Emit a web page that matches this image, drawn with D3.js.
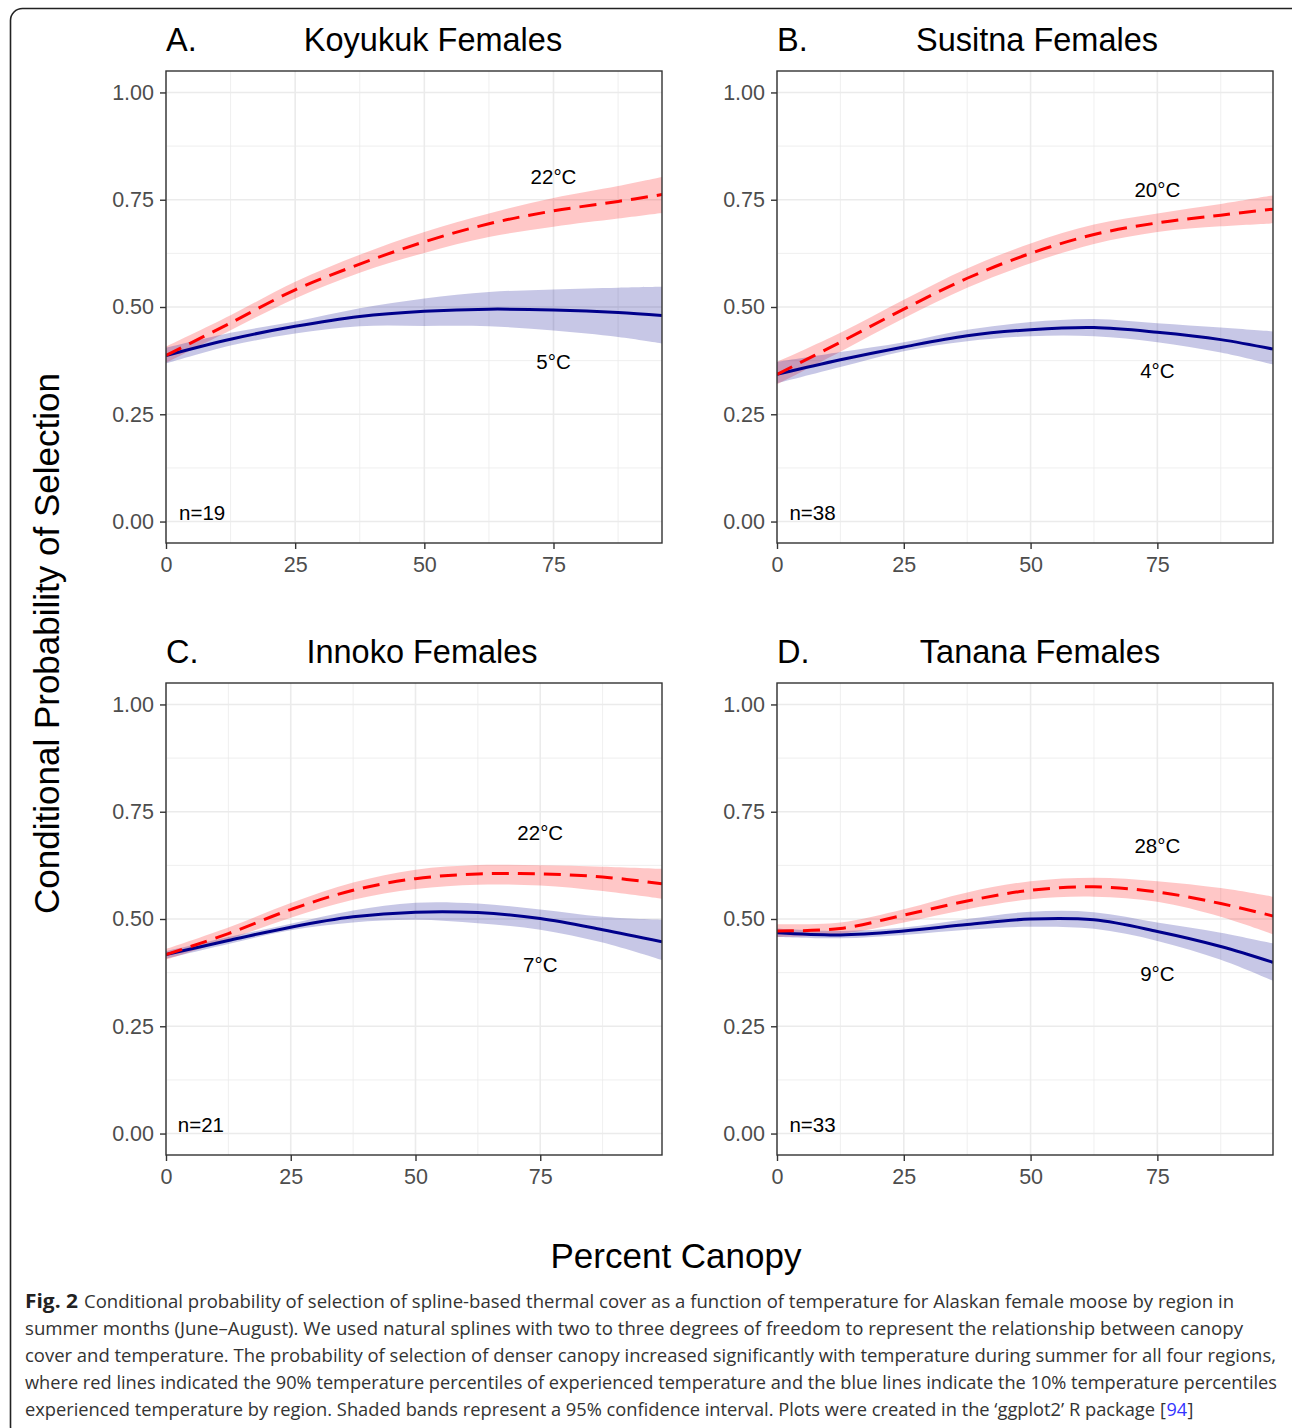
<!DOCTYPE html>
<html>
<head>
<meta charset="utf-8">
<script src="https://cdn.jsdelivr.net/npm/d3@7/dist/d3.min.js"></script>
<style>
  html, body { margin: 0; padding: 0; background: #fff; }
  svg { display: block; }
</style>
</head>
<body>
<svg id="chart" width="1292" height="1428"></svg>
<script>
// ---------------- DATA ----------------
const panelLetters = ["A.", "B.", "C.", "D."];
const panelTitles  = ["Koyukuk Females", "Susitna Females", "Innoko Females", "Tanana Females"];
const sampleSizes  = ["n=19", "n=38", "n=21", "n=33"];
const warmLabels   = ["22°C", "20°C", "22°C", "28°C"];
const coolLabels   = ["5°C", "4°C", "7°C", "9°C"];
const warmLabelY   = [0.803, 0.773, 0.702, 0.672];
const coolLabelY   = [0.374, 0.353, 0.393, 0.372];
const xMax         = [96, 97.8, 99.4, 97.8];

const yTicks = [0, 0.25, 0.5, 0.75, 1];
const xTicks = [0, 25, 50, 75];

// canopy values (percent) at which curves were read
const canopyA = [0, 12.5, 25, 37.5, 50, 62.5, 75, 87.5, 96];
const canopyB = [0, 12.5, 25, 37.5, 50, 62.5, 75, 87.5, 97.8];
const canopyC = [0, 12.5, 25, 37.5, 50, 62.5, 75, 87.5, 99.4];
const canopyD = [0, 12.5, 25, 37.5, 50, 62.5, 75, 87.5, 97.8];

// Koyukuk
const warmA   = [0.387, 0.463, 0.540, 0.600, 0.652, 0.694, 0.724, 0.746, 0.762];
const warmAHi = [0.408, 0.481, 0.559, 0.622, 0.675, 0.718, 0.754, 0.782, 0.803];
const warmALo = [0.370, 0.446, 0.520, 0.580, 0.626, 0.663, 0.687, 0.706, 0.719];
const coolA   = [0.387, 0.425, 0.455, 0.478, 0.490, 0.495, 0.493, 0.487, 0.480];
const coolAHi = [0.405, 0.440, 0.466, 0.497, 0.520, 0.535, 0.541, 0.545, 0.547];
const coolALo = [0.368, 0.410, 0.438, 0.455, 0.456, 0.455, 0.445, 0.430, 0.415];
// Susitna
const warmB   = [0.343, 0.418, 0.495, 0.567, 0.625, 0.669, 0.696, 0.714, 0.728];
const warmBHi = [0.372, 0.440, 0.517, 0.590, 0.648, 0.692, 0.718, 0.740, 0.760];
const warmBLo = [0.320, 0.396, 0.474, 0.545, 0.602, 0.647, 0.675, 0.688, 0.695];
const coolB   = [0.343, 0.377, 0.407, 0.433, 0.447, 0.452, 0.441, 0.424, 0.402];
const coolBHi = [0.372, 0.395, 0.418, 0.447, 0.465, 0.472, 0.462, 0.452, 0.443];
const coolBLo = [0.322, 0.360, 0.397, 0.420, 0.432, 0.432, 0.418, 0.394, 0.366];
// Innoko
const warmC   = [0.417, 0.466, 0.522, 0.567, 0.594, 0.605, 0.605, 0.598, 0.582];
const warmCHi = [0.430, 0.480, 0.537, 0.585, 0.615, 0.626, 0.625, 0.622, 0.617];
const warmCLo = [0.405, 0.452, 0.503, 0.545, 0.570, 0.580, 0.578, 0.565, 0.547];
const coolC   = [0.417, 0.450, 0.481, 0.505, 0.516, 0.515, 0.501, 0.475, 0.447];
const coolCHi = [0.425, 0.458, 0.489, 0.520, 0.538, 0.536, 0.522, 0.505, 0.498];
const coolCLo = [0.408, 0.442, 0.474, 0.492, 0.498, 0.490, 0.475, 0.445, 0.404];
// Tanana
const warmD   = [0.472, 0.478, 0.509, 0.542, 0.567, 0.575, 0.563, 0.536, 0.507];
const warmDHi = [0.488, 0.492, 0.523, 0.562, 0.588, 0.596, 0.588, 0.572, 0.552];
const warmDLo = [0.458, 0.465, 0.492, 0.523, 0.546, 0.552, 0.540, 0.505, 0.464];
const coolD   = [0.468, 0.463, 0.472, 0.487, 0.500, 0.498, 0.471, 0.436, 0.399];
const coolDHi = [0.478, 0.472, 0.480, 0.500, 0.517, 0.516, 0.492, 0.468, 0.443];
const coolDLo = [0.458, 0.455, 0.463, 0.475, 0.482, 0.477, 0.449, 0.405, 0.356];

const captionLead = "Fig. 2";
const captionLines = [
  "Conditional probability of selection of spline-based thermal cover as a function of temperature for Alaskan female moose by region in",
  "summer months (June–August). We used natural splines with two to three degrees of freedom to represent the relationship between canopy",
  "cover and temperature. The probability of selection of denser canopy increased significantly with temperature during summer for all four regions,",
  "where red lines indicated the 90% temperature percentiles of experienced temperature and the blue lines indicate the 10% temperature percentiles",
  "experienced temperature by region. Shaded bands represent a 95% confidence interval. Plots were created in the ‘ggplot2’ R package"
];
const captionRef = ["[", "94", "]"];

// ---------------- LAYOUT ----------------
const panels = [
  {x: canopyA, w: warmA, wh: warmAHi, wl: warmALo, c: coolA, ch: coolAHi, cl: coolALo, left: 166, top: 71},
  {x: canopyB, w: warmB, wh: warmBHi, wl: warmBLo, c: coolB, ch: coolBHi, cl: coolBLo, left: 777, top: 71},
  {x: canopyC, w: warmC, wh: warmCHi, wl: warmCLo, c: coolC, ch: coolCHi, cl: coolCLo, left: 166, top: 683},
  {x: canopyD, w: warmD, wh: warmDHi, wl: warmDLo, c: coolD, ch: coolDHi, cl: coolDLo, left: 777, top: 683}
];
const PW = 496, PH = 472;
const FONT = "'Liberation Sans', Arial, Helvetica, sans-serif";

const svg = d3.select("#chart");

// outer frame
svg.append("rect")
  .attr("x", 10.5).attr("y", 8.5).attr("width", 1295).attr("height", 1430)
  .attr("rx", 12).attr("ry", 12)
  .attr("fill", "none").attr("stroke", "#222").attr("stroke-width", 1.6);

panels.forEach((p, i) => {
  const g = svg.append("g").attr("transform", `translate(${p.left},${p.top})`);
  const x = d3.scaleLinear().domain([0, xMax[i]]).range([0, PW]);
  const y = d3.scaleLinear().domain([-0.05, 1.05]).range([PH, 0]);

  g.append("rect").attr("width", PW).attr("height", PH).attr("fill", "#fff");
  const minorX = [12.5, 37.5, 62.5, 87.5].filter(v => v < xMax[i]);
  const minorY = [0.125, 0.375, 0.625, 0.875];
  g.selectAll(".mx").data(minorX).join("line")
    .attr("x1", d => x(d)).attr("x2", d => x(d)).attr("y1", 0).attr("y2", PH)
    .attr("stroke", "#ebebeb").attr("stroke-width", 0.8);
  g.selectAll(".my").data(minorY).join("line")
    .attr("y1", d => y(d)).attr("y2", d => y(d)).attr("x1", 0).attr("x2", PW)
    .attr("stroke", "#ebebeb").attr("stroke-width", 0.8);
  g.selectAll(".gx").data(xTicks).join("line")
    .attr("x1", d => x(d)).attr("x2", d => x(d)).attr("y1", 0).attr("y2", PH)
    .attr("stroke", "#ebebeb").attr("stroke-width", 1.6);
  g.selectAll(".gy").data(yTicks).join("line")
    .attr("y1", d => y(d)).attr("y2", d => y(d)).attr("x1", 0).attr("x2", PW)
    .attr("stroke", "#ebebeb").attr("stroke-width", 1.6);

  const clipId = "clip" + i;
  g.append("clipPath").attr("id", clipId)
    .append("rect").attr("width", PW).attr("height", PH);
  const plot = g.append("g").attr("clip-path", `url(#${clipId})`);

  const pts = (mean, lo, hi) => p.x.map((v, k) => ({x: v, m: mean[k], lo: lo[k], hi: hi[k]}));
  const warm = pts(p.w, p.wl, p.wh);
  const cool = pts(p.c, p.cl, p.ch);
  const curve = d3.curveCatmullRom.alpha(0.5);
  const area = d3.area().x(d => x(d.x)).y0(d => y(d.lo)).y1(d => y(d.hi)).curve(curve);
  const line = d3.line().x(d => x(d.x)).y(d => y(d.m)).curve(curve);

  plot.append("path").datum(warm).attr("d", area)
    .attr("fill", "#ff0000").attr("fill-opacity", 0.22);
  plot.append("path").datum(cool).attr("d", area)
    .attr("fill", "#00008b").attr("fill-opacity", 0.22);
  plot.append("path").datum(cool).attr("d", line)
    .attr("fill", "none").attr("stroke", "#00008b").attr("stroke-width", 3);
  plot.append("path").datum(warm).attr("d", line)
    .attr("fill", "none").attr("stroke", "#ff0000").attr("stroke-width", 3)
    .attr("stroke-dasharray", "17,9");

  const ann = (xv, yv, t) => g.append("text").attr("x", x(xv)).attr("y", y(yv))
    .attr("text-anchor", "middle").attr("dominant-baseline", "central")
    .attr("font-family", FONT).attr("font-size", 20.5).attr("fill", "#000").text(t);
  ann(75, warmLabelY[i], warmLabels[i]);
  ann(75, coolLabelY[i], coolLabels[i]);
  ann(7, 0.022, sampleSizes[i]);

  g.append("rect").attr("width", PW).attr("height", PH)
    .attr("fill", "none").attr("stroke", "#333").attr("stroke-width", 1.4);

  const ya = g.append("g").call(
    d3.axisLeft(y).tickValues(yTicks).tickFormat(d3.format(".2f")).tickSize(6).tickPadding(6));
  const xa = g.append("g").attr("transform", `translate(0,${PH})`).call(
    d3.axisBottom(x).tickValues(xTicks).tickFormat(d3.format("d")).tickSize(6).tickPadding(8));
  [ya, xa].forEach(a => {
    a.select(".domain").remove();
    a.selectAll(".tick line").attr("stroke", "#333").attr("stroke-width", 1.4);
    a.selectAll(".tick text").attr("fill", "#4d4d4d").attr("font-family", FONT).attr("font-size", 21.5);
  });

  svg.append("text").attr("x", p.left).attr("y", p.top - 20)
    .attr("font-family", FONT).attr("font-size", 32.5).attr("fill", "#000").text(panelLetters[i]);
  const titleCx = [433, 1037, 422, 1040][i];
  svg.append("text").attr("x", titleCx).attr("y", p.top - 20)
    .attr("text-anchor", "middle")
    .attr("font-family", FONT).attr("font-size", 32.5).attr("fill", "#000").text(panelTitles[i]);
});

// axis titles
svg.append("text")
  .attr("transform", "translate(59,643.5) rotate(-90)")
  .attr("text-anchor", "middle")
  .attr("font-family", FONT).attr("font-size", 35).attr("fill", "#000")
  .text("Conditional Probability of Selection");
svg.append("text")
  .attr("x", 676).attr("y", 1268)
  .attr("text-anchor", "middle")
  .attr("font-family", FONT).attr("font-size", 35).attr("fill", "#000")
  .text("Percent Canopy");

// caption
const capFont = "'Open Sans', 'Noto Sans', sans-serif";
const capSize = 18;
const capBase = [1308, 1335, 1362, 1389, 1416];
const capStart = [84, 25, 25, 25, 25];
const capEnd  = [1234, 1243, 1276, 1277, 1155];
svg.append("text").attr("x", 25).attr("y", capBase[0])
  .attr("font-family", capFont).attr("font-size", 19).attr("font-weight", "bold")
  .attr("fill", "#222").attr("textLength", 53).attr("lengthAdjust", "spacingAndGlyphs")
  .text(captionLead);
captionLines.forEach((t, k) => {
  svg.append("text").attr("x", capStart[k]).attr("y", capBase[k])
    .attr("font-family", capFont).attr("font-size", capSize).attr("fill", "#333")
    .attr("textLength", capEnd[k] - capStart[k]).attr("lengthAdjust", "spacingAndGlyphs")
    .text(t);
});
let rx = 1160;
captionRef.forEach((t, k) => {
  const el = svg.append("text").attr("x", rx).attr("y", capBase[4])
    .attr("font-family", capFont).attr("font-size", capSize)
    .attr("fill", k === 1 ? "#3333ff" : "#333").text(t);
  rx += el.node().getComputedTextLength() + 0.5;
});
</script>
</body>
</html>
